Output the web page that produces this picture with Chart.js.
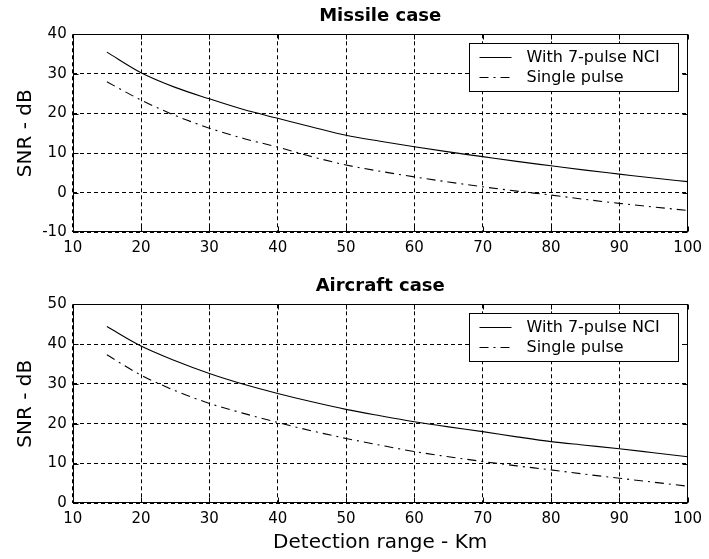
<!DOCTYPE html>
<html>
<head>
<meta charset="utf-8">
<script src="https://cdn.jsdelivr.net/npm/chart.js@4.4.1/dist/chart.umd.min.js"></script>
<style>
  html, body { margin: 0; padding: 0; background: #fff; }
  #wrap { position: relative; width: 709px; height: 559px; }
  .panel { position: absolute; left: 0; width: 709px; }
  #top { top: 0; height: 270px; }
  #bottom { top: 270px; height: 289px; }
</style>
</head>
<body>
<div id="wrap">
  <div class="panel" id="top"><canvas id="missile"></canvas></div>
  <div class="panel" id="bottom"><canvas id="aircraft"></canvas></div>
</div>
<script>
// detection range (km)
const ranges = [15, 20, 25, 30, 35, 40, 45, 50, 55, 60, 65, 70, 75, 80, 85, 90, 95, 100];

// SNR (dB)
const missileNci     = [35.5, 30.3, 26.6, 23.7, 21.0, 18.8, 16.6, 14.5, 13.0, 11.6, 10.3, 9.1, 7.9, 6.8, 5.7, 4.7, 3.7, 2.8];
const missileSingle  = [28.0, 23.4, 19.5, 16.3, 13.7, 11.5, 9.1, 7.0, 5.4, 4.0, 2.7, 1.5, 0.4, -0.6, -1.7, -2.7, -3.6, -4.5];
const aircraftNci    = [44.4, 39.5, 35.8, 32.6, 29.9, 27.6, 25.5, 23.6, 22.0, 20.5, 19.2, 18.0, 16.7, 15.5, 14.6, 13.7, 12.7, 11.7];
const aircraftSingle = [37.3, 32.2, 28.3, 25.1, 22.6, 20.3, 18.2, 16.3, 14.6, 13.0, 11.7, 10.5, 9.4, 8.4, 7.3, 6.3, 5.3, 4.3];

const seriesLabels = ['With 7-pulse NCI', 'Single pulse'];
const xTicks = [10, 20, 30, 40, 50, 60, 70, 80, 90, 100];
const missileYTicks = [-10, 0, 10, 20, 30, 40];
const aircraftYTicks = [0, 10, 20, 30, 40, 50];

const FONT = "'DejaVu Sans', sans-serif";

// solid box round the axes, with small inward tick marks (matlab style)
const frame = {
    id: 'frame',
    afterDatasetsDraw(chart) {
        const { ctx, chartArea: a, scales: { x, y } } = chart;
        const l = Math.round(a.left) + 0.5, r = Math.round(a.right) - 0.5;
        const t = Math.round(a.top) + 0.5, b = Math.round(a.bottom) - 0.5;
        ctx.save();
        ctx.setLineDash([]);
        ctx.strokeStyle = '#000';
        ctx.lineWidth = 1;
        ctx.strokeRect(l, t, r - l, b - t);
        ctx.beginPath();
        x.ticks.forEach(tk => {
            const px = Math.round(x.getPixelForValue(tk.value)) + 0.5;
            ctx.moveTo(px, b); ctx.lineTo(px, b - 5);
            ctx.moveTo(px, t); ctx.lineTo(px, t + 5);
        });
        y.ticks.forEach(tk => {
            const py = Math.round(y.getPixelForValue(tk.value)) + 0.5;
            ctx.moveTo(l, py); ctx.lineTo(l + 5, py);
            ctx.moveTo(r, py); ctx.lineTo(r - 5, py);
        });
        ctx.stroke();
        ctx.restore();
    }
};

// boxed legend inside the top right corner of the plot
const boxLegend = {
    id: 'boxLegend',
    afterDraw(chart) {
        const { ctx, chartArea: a } = chart;
        const w = 209, h = 48;
        const left = Math.round(a.right - 10 - w) + 0.5;
        const top = Math.round(a.top + 9) + 0.5;
        ctx.save();
        ctx.setLineDash([]);
        ctx.fillStyle = '#fff';
        ctx.fillRect(left, top, w, h);
        ctx.strokeStyle = '#000';
        ctx.lineWidth = 1;
        ctx.strokeRect(left, top, w, h);
        ctx.font = '16px ' + FONT;
        ctx.textBaseline = 'middle';
        ctx.fillStyle = '#000';
        chart.data.datasets.forEach((ds, i) => {
            const yy = top + 14 + i * 20;
            ctx.setLineDash(ds.borderDash || []);
            ctx.lineWidth = ds.borderWidth;
            ctx.beginPath();
            ctx.moveTo(left + 10, yy);
            ctx.lineTo(left + 42, yy);
            ctx.stroke();
            ctx.fillText(ds.label, left + 57, yy);
        });
        ctx.restore();
    }
};

function makeChart(id, title, nci, single, yTicks, xAxisHeight, xTitle) {
    const ctx = document.getElementById(id);
    return new Chart(ctx, {
        type: 'line',
        data: {
            datasets: [
                {
                    label: seriesLabels[0],
                    data: ranges.map((r, i) => ({ x: r, y: nci[i] })),
                    borderColor: '#000',
                    borderWidth: 1.1,
                    pointRadius: 0,
                    cubicInterpolationMode: 'monotone'
                },
                {
                    label: seriesLabels[1],
                    data: ranges.map((r, i) => ({ x: r, y: single[i] })),
                    borderColor: '#000',
                    borderWidth: 1.1,
                    borderDash: [9, 5, 2, 5],
                    pointRadius: 0,
                    cubicInterpolationMode: 'monotone'
                }
            ]
        },
        options: {
            responsive: true,
            maintainAspectRatio: false,
            animation: false,
            layout: { padding: { left: 0, right: 15.5, top: 0, bottom: 0 } },
            scales: {
                x: {
                    type: 'linear',
                    min: xTicks[0],
                    max: xTicks[xTicks.length - 1],
                    afterBuildTicks: s => { s.ticks = xTicks.map(v => ({ value: v })); },
                    afterFit: s => { s.height = xAxisHeight; },
                    grid: { color: '#000', lineWidth: 1, drawTicks: false },
                    border: { display: false, dash: [4, 3] },
                    ticks: {
                        color: '#000',
                        padding: 7,
                        maxRotation: 0,
                        font: { size: 15, family: FONT }
                    },
                    title: {
                        display: !!xTitle,
                        text: xTitle || '',
                        color: '#000',
                        padding: { top: 0, bottom: 4 },
                        font: { size: 20, family: FONT }
                    }
                },
                y: {
                    min: yTicks[0],
                    max: yTicks[yTicks.length - 1],
                    afterBuildTicks: s => { s.ticks = yTicks.map(v => ({ value: v })); },
                    afterFit: s => { s.width = 72.7; },
                    grid: { color: '#000', lineWidth: 1, drawTicks: false },
                    border: { display: false, dash: [4, 3] },
                    ticks: {
                        color: '#000',
                        padding: 6,
                        font: { size: 15, family: FONT }
                    },
                    title: {
                        display: true,
                        text: 'SNR - dB',
                        color: '#000',
                        padding: { top: 14, bottom: 0 },
                        font: { size: 20, family: FONT }
                    }
                }
            },
            plugins: {
                legend: { display: false },
                tooltip: { enabled: false },
                title: {
                    display: true,
                    text: title,
                    fullSize: false,
                    color: '#000',
                    padding: { top: 5.5, bottom: 7.2 },
                    font: { size: 18, weight: 'bold', family: FONT }
                }
            }
        },
        plugins: [frame, boxLegend]
    });
}

makeChart('missile', 'Missile case', missileNci, missileSingle, missileYTicks, 37.7, null);
makeChart('aircraft', 'Aircraft case', aircraftNci, aircraftSingle, aircraftYTicks, 55.7, 'Detection range - Km');
</script>
</body>
</html>
